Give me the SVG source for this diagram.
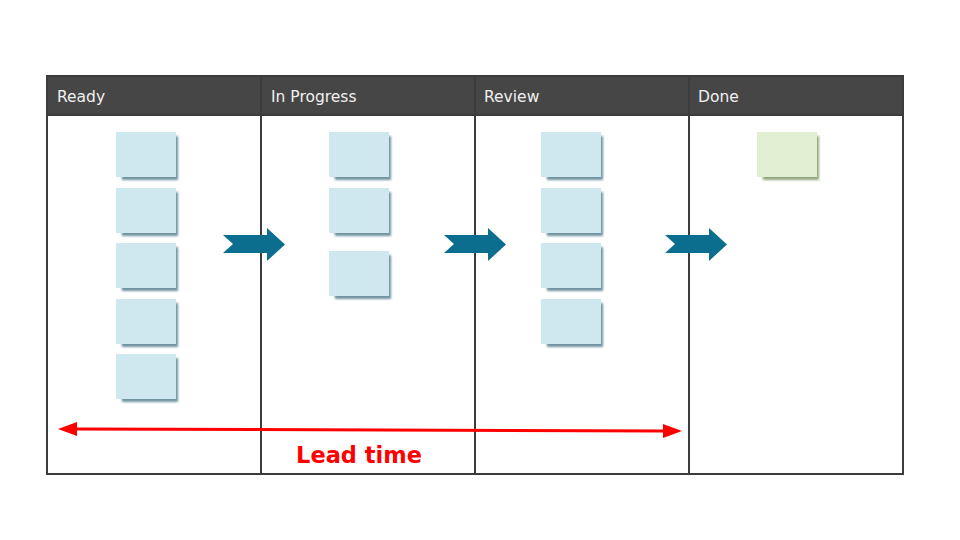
<svg xmlns="http://www.w3.org/2000/svg" width="960" height="540" viewBox="0 0 960 540">
<style>
.hdr{fill:#464646}
.line{stroke:#3c3c3c;stroke-width:2;fill:none}
.htxt{font-family:"DejaVu Sans","Liberation Sans",sans-serif;font-size:15.5px;fill:#f0f0f0}
.note{fill:#cfe8f0}
.gnote{fill:#e2eed2}
.sh{fill:#3f7080;opacity:0.75}
.gsh{fill:#6f8a55;opacity:0.75}
.flow{fill:#0b6e8e}
.lead{font-family:"DejaVu Sans","Liberation Sans",sans-serif;font-size:22.5px;font-weight:bold;fill:#ff0000}
</style>
<defs>
<filter id="blur" x="-20%" y="-20%" width="140%" height="140%"><feGaussianBlur stdDeviation="1.2"/></filter>
<g id="n">
<path class="sh" filter="url(#blur)" d="M2 6 L62 4 L62 48 L6 48 Z"/>
<rect class="note" x="0" y="0" width="60" height="45"/>
</g>
<g id="gn">
<path class="gsh" filter="url(#blur)" d="M2 6 L62 4 L62 48 L6 48 Z"/>
<rect class="gnote" x="0" y="0" width="60" height="45"/>
</g>
</defs>
<rect width="960" height="540" fill="#ffffff"/>
<g id="board">
<rect class="hdr" x="47" y="76" width="856" height="39"/>
<rect class="line" x="47" y="76" width="856" height="398"/>
<line class="line" x1="47" y1="115" x2="903" y2="115"/>
<line class="line" x1="261" y1="76" x2="261" y2="474"/>
<line class="line" x1="475" y1="76" x2="475" y2="474"/>
<line class="line" x1="689" y1="76" x2="689" y2="474"/>
</g>
<g id="col-ready">
<text class="htxt" x="57" y="102">Ready</text>
<use href="#n" x="116" y="132"/>
<use href="#n" x="116" y="188"/>
<use href="#n" x="116" y="243"/>
<use href="#n" x="116" y="299"/>
<use href="#n" x="116" y="354"/>
</g>
<g id="col-inprogress">
<text class="htxt" x="271" y="102">In Progress</text>
<use href="#n" x="329" y="132"/>
<use href="#n" x="329" y="188"/>
<use href="#n" x="329" y="251"/>
</g>
<g id="col-review">
<text class="htxt" x="484" y="102">Review</text>
<use href="#n" x="541" y="132"/>
<use href="#n" x="541" y="188"/>
<use href="#n" x="541" y="243"/>
<use href="#n" x="541" y="299"/>
</g>
<g id="col-done">
<text class="htxt" x="698" y="102">Done</text>
<use href="#gn" x="757" y="132"/>
</g>
<g id="connectors">
<path class="flow" d="M223 235 L267 235 L267 228 L285 244.5 L267 261 L267 253 L223 253 L233 244 Z"/>
<path class="flow" d="M444 235 L488 235 L488 228 L506 244.5 L488 261 L488 253 L444 253 L454 244 Z"/>
<path class="flow" d="M665 235 L709 235 L709 228 L727 244.5 L709 261 L709 253 L665 253 L675 244 Z"/>
<line x1="76" y1="429" x2="664" y2="431" stroke="#ff0000" stroke-width="3"/>
<path d="M58 429 L77 422 L77 436 Z" fill="#ff0000"/>
<path d="M682 431 L663 424 L663 438 Z" fill="#ff0000"/>
</g>
<text class="lead" x="359" y="463" text-anchor="middle">Lead time</text>
</svg>
